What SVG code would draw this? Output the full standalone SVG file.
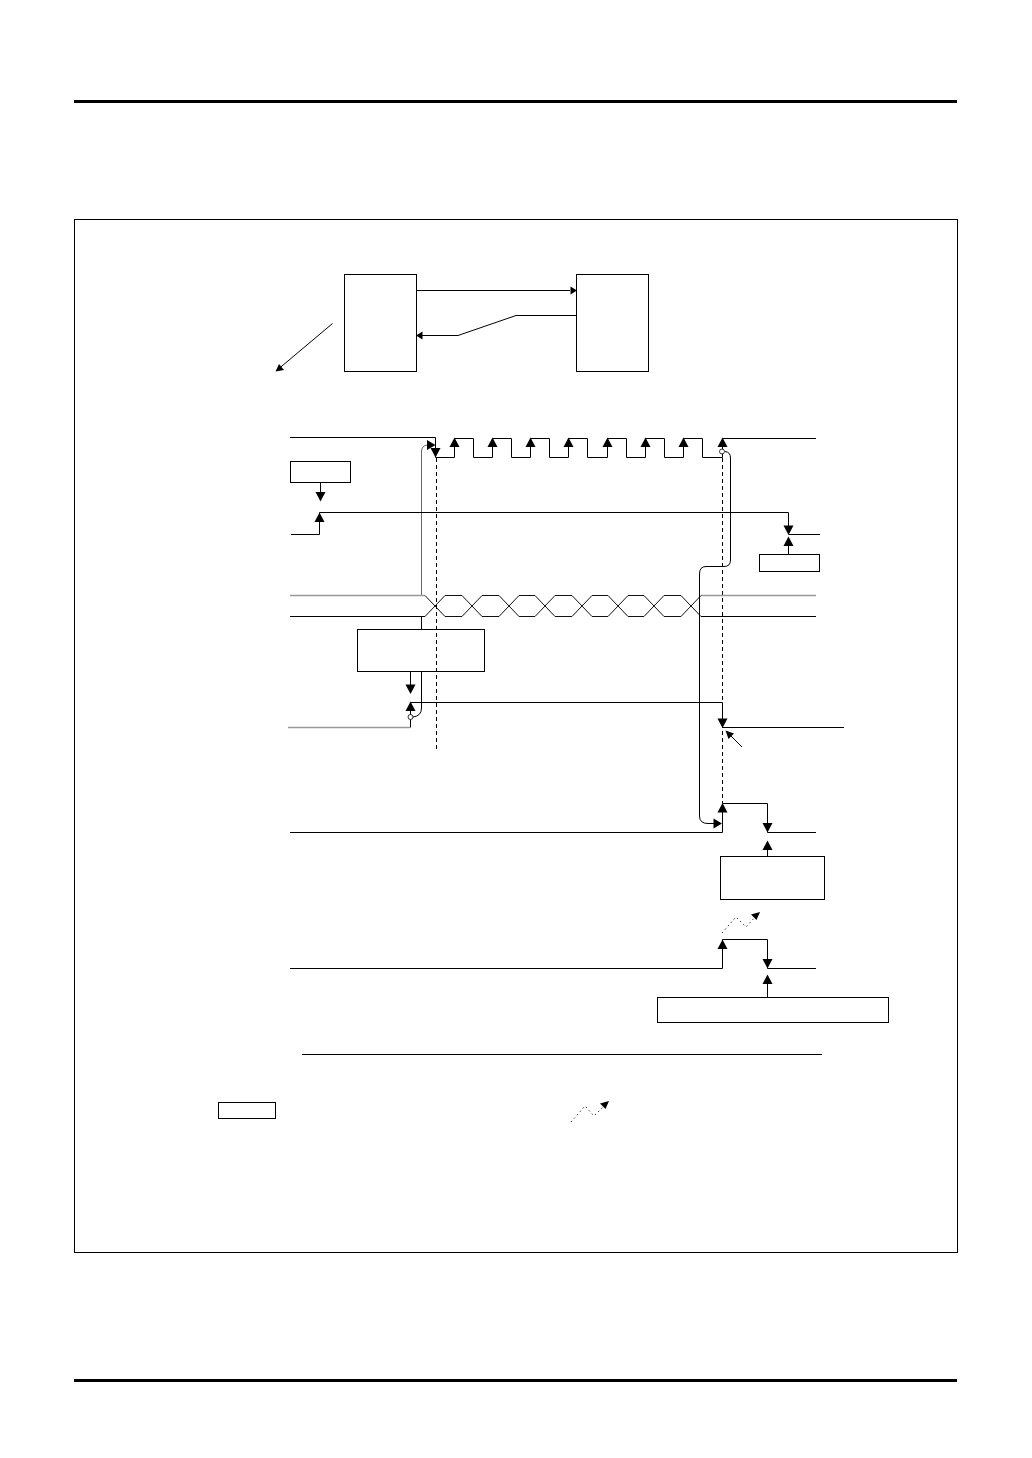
<svg xmlns="http://www.w3.org/2000/svg" width="1032" height="1458" viewBox="0 0 1032 1458">
<style>
.box{fill:#fff;stroke:#000;stroke-width:1}
.w{fill:none;stroke:#000;stroke-width:1}
.g{fill:none;stroke:#999;stroke-width:1.4}
.x{fill:none;stroke:#111;stroke-width:1}
.d{fill:none;stroke:#000;stroke-width:1;stroke-dasharray:4 3}
.z{fill:none;stroke:#333;stroke-width:1;stroke-dasharray:1.5 3}
.c{fill:#fff;stroke:#000;stroke-width:.8}
</style>
<defs>
<polygon id="up" points="0,-.5 -5,9 5,9" fill="#000"/>
<polygon id="dn" points="0,.5 -5,-9 5,-9" fill="#000"/>
<polygon id="rt" points="0,0 -8.500,-5 -8.500,5" fill="#000"/>
<polygon id="lf" points="0,0 6.500,-4 6.500,4" fill="#000"/>
<polygon id="rs" points="0,0 -6.500,-4 -6.500,4" fill="#000"/>
</defs>
<rect width="1032" height="1458" fill="#fff"/>
<g id="page-rules">
<rect x="74" y="100" width="883" height="3" fill="#000"/>
<rect x="74" y="1379" width="883" height="3" fill="#000"/>
</g>
<rect id="frame" class="box" x="74.500" y="219.500" width="883" height="1033"/>
<g id="master"><rect class="box" x="344.500" y="274.500" width="72" height="97"/></g>
<g id="slave"><rect class="box" x="576.500" y="274.500" width="72" height="97"/></g>
<g id="box-start"><rect class="box" x="290.500" y="461.500" width="60" height="21"/></g>
<g id="box-stop"><rect class="box" x="759.500" y="554.500" width="60" height="17"/></g>
<g id="box-address"><rect class="box" x="357.500" y="629.500" width="127" height="42"/></g>
<g id="box-flag"><rect class="box" x="720.500" y="856.500" width="104" height="43"/></g>
<g id="box-write"><rect class="box" x="657.500" y="997.500" width="231" height="25"/></g>
<g id="legend-box"><rect class="box" x="218.500" y="1102.500" width="57" height="16"/></g>
<g id="connectors">
<path class="w" d="M417 290.500H570"/><use href="#rs" x="577" y="290.500"/>
<path class="w" stroke="#333" d="M576 315.500H516L458 335.500H422"/><use href="#lf" x="416" y="335.500"/>
<path class="w" d="M332.500 323.500L279 368.500"/><polygon points="275.500,371.500 279,364 284,370" fill="#000"/>
<!-- clock -->
<path class="w" d="M290 437.500H435.500V457.500H454.500V438.500H473.500V457.500H492.500V438.500H511.500V457.500H530.500V438.500H549.500V457.500H568.500V438.500H587.500V457.500H607.500V438.500H626.500V457.500H645.500V438.500H664.500V457.500H683.500V438.500H702.500V457.500H722.500V438.500H816"/>
<use href="#up" x="454.500" y="438"/><use href="#up" x="492.500" y="438"/><use href="#up" x="530.500" y="438"/><use href="#up" x="568.500" y="438"/><use href="#up" x="607.500" y="438"/><use href="#up" x="645.500" y="438"/><use href="#up" x="683.500" y="438"/><use href="#up" x="722.500" y="438"/>
<use href="#dn" x="435.500" y="457"/>
<path class="d" d="M436.500 458V750"/>
<path class="d" d="M722.500 458V803"/>
<path class="w" stroke-opacity=".6" d="M421.500 596V452Q421.500 445 428 445"/><use href="#rt" x="435.500" y="445"/>
<!-- start/stop -->
<path class="w" d="M320.500 483V493"/><use href="#dn" x="320.500" y="501"/>
<path class="w" d="M291 534.500H319.500V512.500H788.500V526"/><use href="#up" x="319.500" y="513"/><use href="#dn" x="788.500" y="534.500"/>
<path class="w" d="M788.500 534.500H820"/>
<path class="w" d="M788.500 554V545"/><use href="#up" x="788.500" y="537"/>
<!-- bus -->
<path class="g" d="M290 595.500H425"/><path class="w" d="M290 616.500H425"/>
<path class="g" d="M701 595.500H816"/><path class="w" d="M701 616.500H816"/>
<path class="x" d="M425 616.500L445 595.500H462L482 616.500H499L519 595.500H535L555 616.500H572L592 595.500H608L628 616.500H644L664 595.500H681L701 616.500"/>
<path class="x" d="M425 595.500L445 616.500H462L482 595.500H499L519 616.500H535L555 595.500H572L592 616.500H608L628 595.500H644L664 616.500H681L701 595.500"/>
<!-- ack -->
<path class="w" d="M421.500 616V629"/>
<path class="w" d="M421.500 672V708Q421.500 716 413 717"/>
<path class="w" d="M410.500 672V685"/><use href="#dn" x="410.500" y="693.500"/>
<path class="g" d="M288 727.500H410"/><path class="w" d="M410.500 727.500V702.500H722.500V719"/>
<use href="#up" x="410.500" y="702"/><use href="#dn" x="722.500" y="727.500"/>
<circle class="c" cx="410.500" cy="717" r="2.500"/>
<path class="w" d="M722.500 727.500H844"/>
<path class="w" d="M742 747L730 735"/><polygon points="725.500,730.500 734,733.500 728.500,739" fill="#000"/>
<!-- curved return -->
<path class="w" d="M725 451.500Q730.500 452 730.500 458V560Q730.500 566.500 724 566.500H706Q699.500 566.500 699.500 574V816Q699.500 823.500 708 823.500H714"/>
<use href="#rt" x="722" y="823.500"/>
<circle class="c" cx="722" cy="451.500" r="2.500"/>
<!-- flag 1 -->
<path class="w" d="M290 832.500H722.500V803.500H767.500V832.500H816"/>
<use href="#up" x="722.500" y="803.500"/><use href="#dn" x="767.500" y="832"/>
<path class="w" d="M767.500 856V849"/><use href="#up" x="767.500" y="841"/>
<path class="z" d="M722 933L736 917L746 927L757 915"/><polygon points="760,912 751,914.500 756.500,920" fill="#000"/>
<!-- flag 2 -->
<path class="w" d="M290 968.500H722.500V939.500H767.500V968.500H816"/>
<use href="#up" x="722.500" y="940"/><use href="#dn" x="767.500" y="968"/>
<path class="w" d="M767.500 997V983"/><use href="#up" x="767.500" y="975"/>
<path class="w" d="M302 1054.500H822"/>
<path class="z" d="M571 1122L585 1106L594 1116L606 1104"/><polygon points="609,1101 600,1103.500 605.500,1109" fill="#000"/>
</g>
</svg>
